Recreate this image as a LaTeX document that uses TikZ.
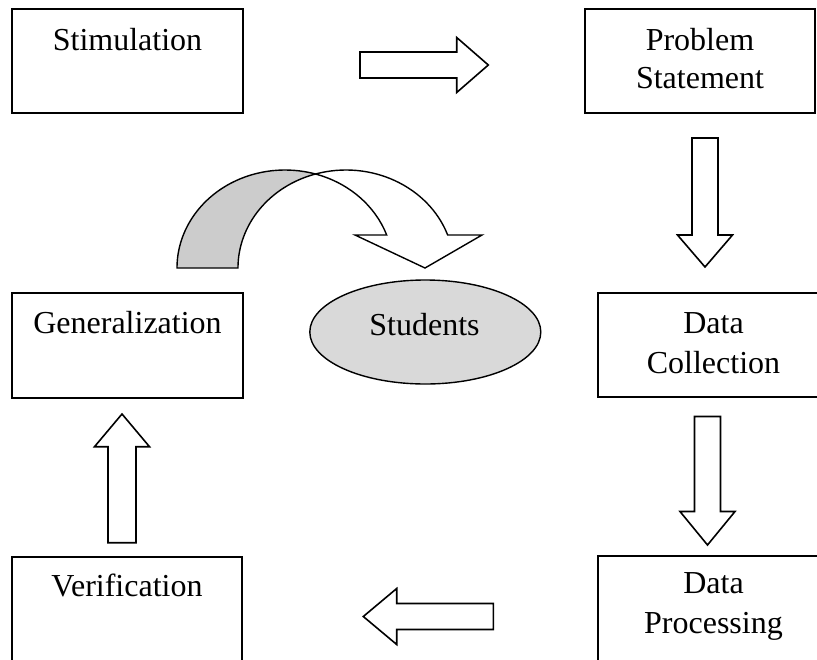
\documentclass[tikz,border=0pt]{standalone}
\usepackage{fontspec}
\setmainfont{Liberation Serif}
\usetikzlibrary{shapes.geometric}
\begin{document}
\begin{tikzpicture}[x=1pt,y=1pt,
  box/.style={draw=black, line width=2pt, fill=white, rectangle, inner sep=0pt},
  lbl/.style={anchor=base, inner sep=0pt, font=\fontsize{32}{38}\selectfont},
  blockarrow/.style={draw=black, line width=1.6pt, fill=white, line join=miter},
  curvedface/.style={draw=black, line width=1.4pt, line join=miter},
]
\definecolor{backgray}{RGB}{204,204,204}
\definecolor{ovalgray}{RGB}{217,217,217}
\clip (0,0) rectangle (817,-659);

% process boxes
\node[box, minimum width=231pt, minimum height=104pt] (stim) at (127.5,-61) {};
\node[box, minimum width=230pt, minimum height=104pt] (prob) at (700,-61) {};
\node[box, minimum width=231pt, minimum height=105pt] (gen)  at (127.5,-345.5) {};
\node[box, minimum width=232pt, minimum height=104pt] (coll) at (714,-345) {};
\node[box, minimum width=230pt, minimum height=113pt] (ver)  at (127,-613.5) {};
\node[box, minimum width=232pt, minimum height=114pt] (proc) at (714,-613) {};

% box labels
\node[lbl] (stimtxt)  at (127.5,-50) {Stimulation};
\node[lbl] (probtxtA) at (700,-50)   {Problem};
\node[lbl] (probtxtB) at (700,-88)   {Statement};
\node[lbl] (gentxt)   at (127.5,-333) {Generalization};
\node[lbl] (colltxtA) at (713.5,-333) {Data};
\node[lbl] (colltxtB) at (713.5,-373) {Collection};
\node[lbl] (vertxt)   at (127,-596)  {Verification};
\node[lbl] (proctxtA) at (713.5,-593) {Data};
\node[lbl] (proctxtB) at (713.5,-633) {Processing};

% central oval
\node[ellipse, draw=black, fill=ovalgray, line width=1.4pt, inner sep=0pt,
      minimum width=231pt, minimum height=104pt] (stud) at (425.3,-332) {};
\node[lbl] (studtxt) at (424.5,-335) {Students};

% block arrows between the steps
\draw[blockarrow] (360,-52) -- (456.7,-52) -- (456.7,-37.5) -- (488.3,-65)
  -- (456.7,-92.5) -- (456.7,-78) -- (360,-78) -- cycle;
\draw[blockarrow] (692,-138) -- (718,-138) -- (718,-235) -- (732.5,-235)
  -- (705,-267) -- (677.5,-235) -- (692,-235) -- cycle;
\draw[blockarrow] (694.5,-416.5) -- (720.5,-416.5) -- (720.5,-511.5) -- (735,-511.5)
  -- (707.5,-545) -- (680,-511.5) -- (694.5,-511.5) -- cycle;
\draw[blockarrow] (493.3,-603.5) -- (396.7,-603.5) -- (396.7,-588.5) -- (363.3,-616.5)
  -- (396.7,-644.5) -- (396.7,-629.5) -- (493.3,-629.5) -- cycle;
\draw[blockarrow] (108,-542.7) -- (108,-446.7) -- (94.5,-446.7) -- (122,-414)
  -- (149.5,-446.7) -- (136,-446.7) -- (136,-542.7) -- cycle;

% curved arrow towards the students: shaded back face, then white front face
\draw[curvedface, fill=backgray]
  (177,-268) arc[start angle=180, end angle=73.6, x radius=108pt, y radius=98pt]
  arc[start angle=106.4, end angle=180, x radius=108pt, y radius=98pt] -- cycle;
\draw[curvedface, fill=white]
  (315.5,-174) arc[start angle=106.4, end angle=19.7, x radius=108pt, y radius=98pt]
  -- (482,-235) -- (425,-268) -- (355,-235) -- (386.7,-235)
  arc[start angle=19.7, end angle=73.6, x radius=108pt, y radius=98pt] -- cycle;
\end{tikzpicture}
\end{document}
